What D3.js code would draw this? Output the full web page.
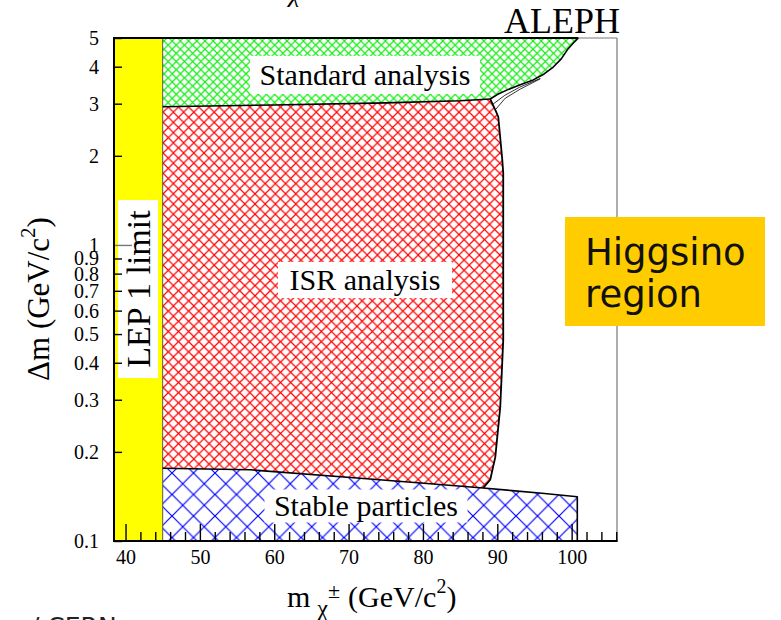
<!DOCTYPE html>
<html>
<head>
<meta charset="utf-8">
<script src="https://cdn.jsdelivr.net/npm/d3@7/dist/d3.min.js"></script>
<style>
  body { margin: 0; background: #fff; }
  svg { display: block; }
</style>
</head>
<body>
<svg id="chart" width="781" height="620"></svg>
<script>
// Excluded regions in the (chargino mass, mass difference) plane

// Axis ticks
const xMajorTicks = [40, 50, 60, 70, 80, 90, 100];
const xMinorTicks = [42, 44, 46, 48, 52, 54, 56, 58, 62, 64, 66, 68, 72, 74, 76, 78,
                     82, 84, 86, 88, 92, 94, 96, 98, 102, 104, 106];
const yTicks = [0.1, 0.2, 0.3, 0.4, 0.5, 0.6, 0.7, 0.8, 0.9, 1, 2, 3, 4, 5];
const yTickLabels = ["0.1", "0.2", "0.3", "0.4", "0.5", "0.6", "0.7", "0.8", "0.9", "1", "2", "3", "4", "5"];

// LEP 1 limit on the chargino mass (GeV/c^2)
const lep1Limit = 45.0;

// Lower edge of the standard-analysis region
const stdLowerX = [45.0, 60.0, 75.0, 85.0, 89.05];
const stdLowerY = [2.93, 2.97, 3.02, 3.07, 3.11];

// Right edge of the standard-analysis region, up to the top of the plot
const stdEdgeX = [89.05, 90.0, 91.34, 93.0, 94.84, 96.3, 97.53, 98.6, 99.42, 100.2, 100.9];
const stdEdgeY = [3.11, 3.22, 3.34, 3.47, 3.61, 3.78, 3.99, 4.25, 4.56, 4.8, 5.0];

// Right edge of the ISR-analysis region, top to bottom
const isrEdgeX = [89.05, 89.73, 90.13, 90.67, 90.8, 90.8, 90.4, 89.73, 89.05, 88.11];
const isrEdgeY = [3.11, 2.86, 2.71, 1.94, 1.75, 0.478, 0.284, 0.192, 0.161, 0.151];

// Secondary ISR contours near the junction with the standard analysis
const isrAltAX = [89.73, 91.07, 93.09, 95.78];
const isrAltAY = [2.86, 3.13, 3.36, 3.64];
const isrAltBX = [89.35, 91.0, 93.0, 95.78];
const isrAltBY = [2.98, 3.2, 3.41, 3.65];

// Upper edge of the stable-particle region
const stableTopX = [45.0, 56.75, 71.56, 80.98, 88.11, 92.0, 96.0, 100.76];
const stableTopY = [0.176, 0.174, 0.163, 0.156, 0.151, 0.148, 0.145, 0.141];

const svg = d3.select("#chart");
const margin = { left: 114, right: 617, top: 38, bottom: 541 };

const x = d3.scaleLinear().domain([38.45, 106.1]).range([margin.left, margin.right]);
const y = d3.scaleLog().domain([0.1, 5]).range([margin.bottom, margin.top]);

const serif = "'Liberation Serif', 'Times New Roman', serif";
const sans = "'DejaVu Sans', Verdana, sans-serif";

const zip = (xs, ys) => xs.map((v, i) => [v, ys[i]]);
const line = d3.line().x(d => x(d[0])).y(d => y(d[1]));

// Hatch patterns
const defs = svg.append("defs");
function crossHatch(id, size, color, width) {
  const p = defs.append("pattern")
    .attr("id", id)
    .attr("patternUnits", "userSpaceOnUse")
    .attr("width", size).attr("height", size);
  p.append("path")
    .attr("d", `M-1,-1L${size + 1},${size + 1}M${size + 1},-1L-1,${size + 1}`)
    .attr("stroke", color).attr("stroke-width", width).attr("fill", "none");
}
crossHatch("hatch-green", 8.2, "#11ee11", 1.2);
crossHatch("hatch-red", 10.2, "#ff0000", 1.2);
crossHatch("hatch-blue", 21.5, "#0000ff", 1.2);

defs.append("clipPath").attr("id", "plot-clip")
  .append("rect")
  .attr("x", margin.left).attr("y", margin.top)
  .attr("width", margin.right - margin.left).attr("height", margin.bottom - margin.top);

const plot = svg.append("g").attr("clip-path", "url(#plot-clip)");

// LEP 1 excluded band
plot.append("rect")
  .attr("x", x(38.45)).attr("y", y(5))
  .attr("width", x(lep1Limit) - x(38.45)).attr("height", y(0.1) - y(5))
  .attr("fill", "#ffff00");

// Region polygons
const stdLower = zip(stdLowerX, stdLowerY);
const stdEdge = zip(stdEdgeX, stdEdgeY);
const isrEdge = zip(isrEdgeX, isrEdgeY);
const stableTop = zip(stableTopX, stableTopY);

const greenPoly = [[lep1Limit, 5]].concat(stdEdge.slice().reverse(), stdLower.slice().reverse());
const redPoly = stdLower.concat(isrEdge.slice(1),
  stableTop.filter(d => d[0] < isrEdgeX[isrEdgeX.length - 1]).reverse());
const stableRight = stableTopX[stableTopX.length - 1];
const bluePoly = stableTop.concat([[stableRight, 0.1], [lep1Limit, 0.1]]);

plot.append("path").attr("d", line(greenPoly) + "Z").attr("fill", "url(#hatch-green)");
plot.append("path").attr("d", line(redPoly) + "Z").attr("fill", "url(#hatch-red)");
plot.append("path").attr("d", line(bluePoly) + "Z").attr("fill", "url(#hatch-blue)");

// Region labels on white boxes
function boxedLabel(text, cx, cy, w, h, size) {
  plot.append("rect")
    .attr("x", cx - w / 2).attr("y", cy - h / 2)
    .attr("width", w).attr("height", h).attr("fill", "#fff");
  plot.append("text")
    .attr("x", cx).attr("y", cy + size * 0.33)
    .attr("text-anchor", "middle")
    .attr("font-family", serif).attr("font-size", size)
    .attr("fill", "#000").text(text);
}
boxedLabel("Standard analysis", 365, 75, 230, 38, 30);
boxedLabel("ISR analysis", 365, 280, 174, 36, 30);
boxedLabel("Stable particles", 366, 506, 203, 33, 30);

// Vertical LEP 1 label
const lepG = plot.append("g").attr("transform", "translate(138,289)");
lepG.append("rect").attr("x", -20).attr("y", -89).attr("width", 40).attr("height", 178).attr("fill", "#fff");
lepG.append("text")
  .attr("transform", "rotate(-90)")
  .attr("x", 0).attr("y", 12)
  .attr("text-anchor", "middle")
  .attr("font-family", serif).attr("font-size", 34)
  .text("LEP 1 limit");

// Contour lines
plot.append("line")
  .attr("x1", x(lep1Limit)).attr("x2", x(lep1Limit))
  .attr("y1", y(0.1)).attr("y2", y(5))
  .attr("stroke", "#555").attr("stroke-width", 1);

const contour = (pts, w) => plot.append("path")
  .attr("d", line(pts)).attr("fill", "none")
  .attr("stroke", "#000").attr("stroke-width", w)
  .attr("stroke-linejoin", "round");

contour(stdLower, 1.6);
contour(stdEdge, 1.6);
contour(isrEdge, 1.8);
contour(stableTop.concat([[stableRight, 0.1]]), 1.6);
contour(zip(isrAltAX, isrAltAY), 0.8);
contour(zip(isrAltBX, isrAltBY), 0.8);

// Frame
svg.append("line")
  .attr("x1", x(stdEdgeX[stdEdgeX.length - 1])).attr("x2", margin.right)
  .attr("y1", margin.top).attr("y2", margin.top)
  .attr("stroke", "#777").attr("stroke-width", 1);
svg.append("line")
  .attr("x1", margin.right).attr("x2", margin.right)
  .attr("y1", margin.top).attr("y2", margin.bottom)
  .attr("stroke", "#777").attr("stroke-width", 1.2);
svg.append("line")
  .attr("x1", margin.left).attr("x2", x(stdEdgeX[stdEdgeX.length - 1]))
  .attr("y1", margin.top).attr("y2", margin.top)
  .attr("stroke", "#000").attr("stroke-width", 2.2);

// X axis: ticks point inward
const xAxisMinor = d3.axisBottom(x).tickValues(xMinorTicks).tickSize(-9).tickFormat("");
const xAxisMajor = d3.axisBottom(x).tickValues(xMajorTicks).tickSize(-17).tickPadding(9)
  .tickFormat(d3.format("d"));

const gxMinor = svg.append("g").attr("transform", `translate(0,${margin.bottom})`).call(xAxisMinor);
const gxMajor = svg.append("g").attr("transform", `translate(0,${margin.bottom})`).call(xAxisMajor);
[gxMinor, gxMajor].forEach(g => {
  g.select(".domain").remove();
  g.selectAll(".tick line").attr("stroke", "#000").attr("stroke-width", 1.4);
});
gxMajor.selectAll(".tick text")
  .attr("font-family", serif).attr("font-size", 20).attr("fill", "#000");

svg.append("line")
  .attr("x1", margin.left - 1).attr("x2", margin.right + 0.6)
  .attr("y1", margin.bottom).attr("y2", margin.bottom)
  .attr("stroke", "#000").attr("stroke-width", 2);

// Y axis: log scale, ticks point inward
const yAxis = d3.axisLeft(y).tickValues(yTicks).tickSize(-8).tickPadding(15)
  .tickFormat((d, i) => yTickLabels[i]);
const gy = svg.append("g").attr("transform", `translate(${margin.left},0)`).call(yAxis);
gy.select(".domain").remove();
gy.selectAll(".tick line").attr("stroke", "#000").attr("stroke-width", 1.4);
gy.selectAll(".tick")
  .filter(d => d === 1)
  .select("line").attr("x2", 18).attr("stroke", "#777");
gy.selectAll(".tick text")
  .attr("font-family", serif).attr("font-size", 20).attr("fill", "#000");

svg.append("line")
  .attr("x1", margin.left).attr("x2", margin.left)
  .attr("y1", margin.top - 1).attr("y2", margin.bottom)
  .attr("stroke", "#000").attr("stroke-width", 2);

// Axis titles
const xTitle = svg.append("text")
  .attr("x", 287).attr("y", 607)
  .attr("font-family", serif).attr("font-size", 30).attr("fill", "#000");
xTitle.append("tspan").text("m");
xTitle.append("tspan").attr("dx", 7).attr("dy", 9).attr("font-size", 24).text("χ");
xTitle.append("tspan").attr("dx", 0).attr("dy", -18).attr("font-size", 22).text("±");
xTitle.append("tspan").attr("dx", 8).attr("dy", 9).text("(GeV/c");
xTitle.append("tspan").attr("dy", -14).attr("font-size", 20).text("2");
xTitle.append("tspan").attr("dy", 14).text(")");

const yTitle = svg.append("text")
  .attr("transform", "translate(49,299) rotate(-90)")
  .attr("text-anchor", "middle")
  .attr("font-family", serif).attr("font-size", 31).attr("fill", "#000");
yTitle.append("tspan").text("Δm (GeV/c");
yTitle.append("tspan").attr("dy", -14).attr("font-size", 21).text("2");
yTitle.append("tspan").attr("dy", 14).text(")");

// Experiment tag and partial title
svg.append("text")
  .attr("x", 620).attr("y", 33)
  .attr("text-anchor", "end")
  .attr("font-family", serif).attr("font-size", 36).attr("fill", "#000")
  .text("ALEPH");

svg.append("text")
  .attr("x", 289).attr("y", 2)
  .attr("font-family", serif).attr("font-style", "italic").attr("font-size", 26).attr("fill", "#000")
  .text("χ");

svg.append("text")
  .attr("x", 31).attr("y", 635)
  .attr("font-family", sans).attr("font-size", 25).attr("fill", "#222")
  .text("/ CERN");

// Higgsino region callout
svg.append("rect")
  .attr("x", 565).attr("y", 217).attr("width", 200).attr("height", 109)
  .attr("fill", "#ffcc00");
const hig = svg.append("text")
  .attr("font-family", sans).attr("font-size", 37).attr("fill", "#111");
hig.append("tspan").attr("x", 585).attr("y", 265).text("Higgsino");
hig.append("tspan").attr("x", 585).attr("y", 307).text("region");
</script>
</body>
</html>
